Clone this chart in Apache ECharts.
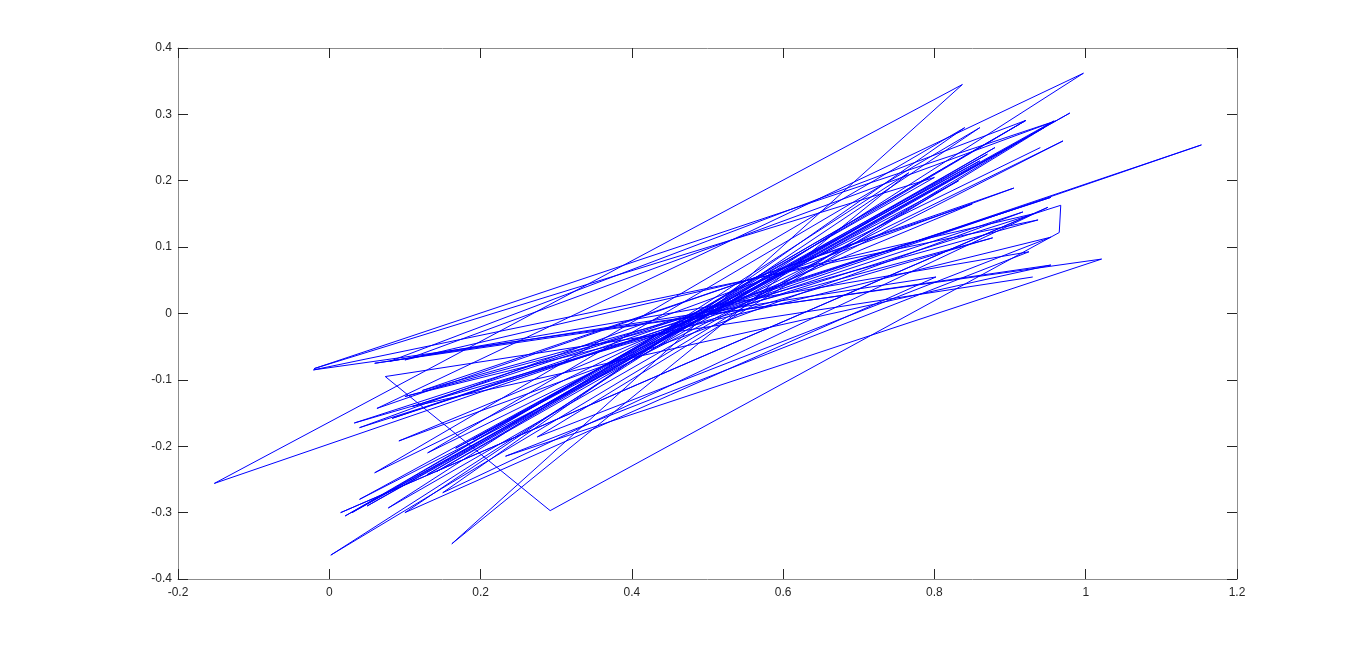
<!DOCTYPE html>
<html>
<head>
<meta charset="utf-8">
<title>plot</title>
<script src="https://cdn.jsdelivr.net/npm/echarts@6/dist/echarts.min.js"></script>
<style>
  html, body { margin: 0; padding: 0; background: #fff; }
  #chart { width: 1366px; height: 652px; }
</style>
</head>
<body>
<div id="chart"></div>
<script>
// path vertices, in drawing order
const xs = [
  0.930, 0.074, 0.292, 0.965, 0.967, 0.040, 0.905, 0.063, 0.997, 0.002,
  0.958, 0.021, 0.921, 0.129, 0.870, 0.167, 0.832, 0.078, 0.766, 0.162,
  0.837, -0.152, 1.153, 0.083, 0.917, 0.092, 0.850, 0.123, 0.937, -0.021,
  1.021, 0.233, 0.925, 0.080, 0.921, 0.030, 0.979, 0.142, 0.880, 0.050,
  0.945, 0.275, 0.954, 0.100, 0.877, 0.033, 0.954, 0.110, 0.954, 0.060,
  0.802, 0.100, 0.860, 0.130, 0.970, 0.040, 0.860, 0.190, 0.800, -0.020,
  0.960, 0.100, 0.930, 0.015, 0.950, 0.150, 0.840, 0.060, 0.940
]
const ys = [
  0.055, -0.095, -0.297, 0.122, 0.163, -0.172, 0.189, -0.143, 0.362, -0.364,
  0.290, -0.305, 0.291, -0.243, 0.240, -0.203, 0.200, -0.293, 0.212, -0.347,
  0.345, -0.256, 0.254, -0.158, 0.153, -0.192, 0.165, -0.116, 0.141, -0.085,
  0.082, -0.215, 0.093, -0.072, 0.291, -0.300, 0.302, -0.238, 0.250, -0.290,
  0.280, -0.186, 0.115, -0.125, 0.114, -0.165, 0.175, -0.140, 0.073, -0.075,
  0.055, -0.300, 0.280, -0.210, 0.260, -0.280, 0.230, -0.190, 0.205, -0.083,
  0.290, -0.070, 0.150, -0.300, 0.160, -0.270, 0.280, -0.240, 0.250
]

const xTicks = [-0.2, 0, 0.2, 0.4, 0.6, 0.8, 1, 1.2]
const yTicks = [-0.4, -0.3, -0.2, -0.1, 0, 0.1, 0.2, 0.3, 0.4]

const AXIS = '#8c8c8c'
const TEXT = '#262626'
const font = { color: TEXT, fontSize: 12, fontFamily: 'Liberation Sans, Arial, sans-serif' }

function axisBase(extra) {
  return Object.assign({
    type: 'value',
    axisLine: { show: true, onZero: false, lineStyle: { color: AXIS, width: 1 } },
    axisTick: { show: true, inside: true, length: 10, lineStyle: { color: TEXT } },
    splitLine: { show: false },
  }, extra)
}

const chart = echarts.init(document.getElementById('chart'))
chart.setOption({
  animation: false,
  backgroundColor: '#fff',
  grid: { left: 178, top: 48, width: 1059, height: 531 },
  xAxis: [
    axisBase({ min: xTicks[0], max: xTicks[xTicks.length - 1], interval: 0.2, position: 'bottom',
      axisLabel: Object.assign({ margin: 8, formatter: v => String(+v.toFixed(1)) }, font) }),
    axisBase({ min: xTicks[0], max: xTicks[xTicks.length - 1], interval: 0.2, position: 'top',
      axisLabel: { show: false } }),
  ],
  yAxis: [
    axisBase({ min: yTicks[0], max: yTicks[yTicks.length - 1], interval: 0.1, position: 'left',
      axisLabel: Object.assign({ margin: 6, formatter: v => String(+v.toFixed(1)) }, font) }),
    axisBase({ min: yTicks[0], max: yTicks[yTicks.length - 1], interval: 0.1, position: 'right',
      axisLabel: { show: false } }),
  ],
  series: [{
    type: 'line',
    xAxisIndex: 0,
    yAxisIndex: 0,
    showSymbol: false,
    symbol: 'none',
    lineStyle: { color: '#0000ff', width: 1 },
    data: xs.map((x, i) => [x, ys[i]]),
  }],
})
</script>
</body>
</html>
